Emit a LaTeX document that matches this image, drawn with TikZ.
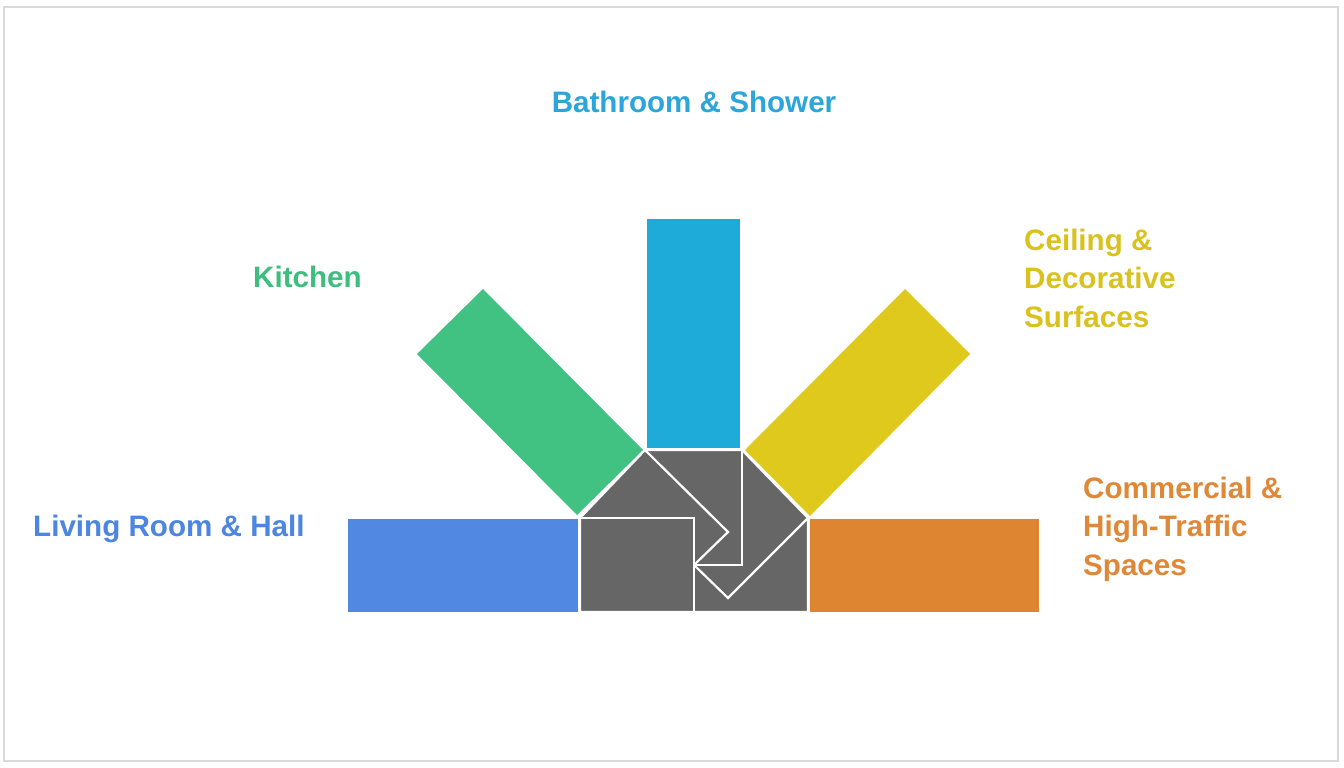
\documentclass[tikz,border=0pt]{standalone}
\usepackage{fontspec}
\setmainfont{Liberation Sans}
\definecolor{cblue}{HTML}{5088E2}
\definecolor{cgreen}{HTML}{42C282}
\definecolor{ccyan}{HTML}{1EABDA}
\definecolor{cyellow}{HTML}{DEC91C}
\definecolor{corange}{HTML}{DE8532}
\definecolor{cgray}{HTML}{666666}
\definecolor{tcyan}{HTML}{2CA6DA}
\definecolor{tgreen}{HTML}{3EBE7E}
\definecolor{tyellow}{HTML}{D9C21E}
\definecolor{tblue}{HTML}{4C86E0}
\definecolor{torange}{HTML}{DE8838}
\tikzset{
  lbl/.style={font=\fontsize{29.6}{38.5}\selectfont\bfseries, inner sep=0pt, align=left},
  tile/.style={draw=white, line width=2.2pt, line join=miter},
}
\begin{document}
\begin{tikzpicture}[x=1pt,y=-1pt]
\useasboundingbox (0,0) rectangle (1344,768);
\fill[white] (0,0) rectangle (1344,768);
\draw[black!15, line width=1.5pt] (4,7) rectangle (1338,761);
% colored bars
\fill[cblue] (348,519) rectangle (578,612);
\fill[corange] (810,519) rectangle (1039,612);
\fill[ccyan] (647,219) rectangle (740,448);
\fill[cgreen] (483,289) -- (417,354) -- (577,515) -- (643,450) -- cycle;
\fill[cyellow] (905,289) -- (970,354) -- (810,516) -- (745,450) -- cycle;
% gray pinwheel
\fill[cgray] (580,518) -- (645,450) -- (742,450) -- (808,518) -- (808,612) -- (580,612) -- cycle;
\draw[tile] (580,518) -- (645,450) -- (742,450) -- (808,518) -- (808,612) -- (580,612) -- cycle;
\draw[tile] (580,518) -- (694,518) -- (694,612);
\draw[tile] (645,450) -- (728,532) -- (694,565);
\draw[tile] (742,450) -- (742,565) -- (694,565);
\draw[tile] (694,565) -- (728,598) -- (808,518);
% labels
\node[lbl, text=tcyan] (bath) at (694,102) {Bathroom \& Shower};
\node[lbl, text=tgreen, anchor=west] (kitchen) at (253,277) {Kitchen};
\node[lbl, text=tyellow, anchor=west] (ceiling) at (1024,278) {Ceiling \&\\Decorative\\Surfaces};
\node[lbl, text=tblue, anchor=west] (living) at (33,529) {Living Room \& Hall};
\node[lbl, text=torange, anchor=west] (commercial) at (1083,529) {Commercial \&\\High-Traffic\\Spaces};
\end{tikzpicture}
\end{document}
